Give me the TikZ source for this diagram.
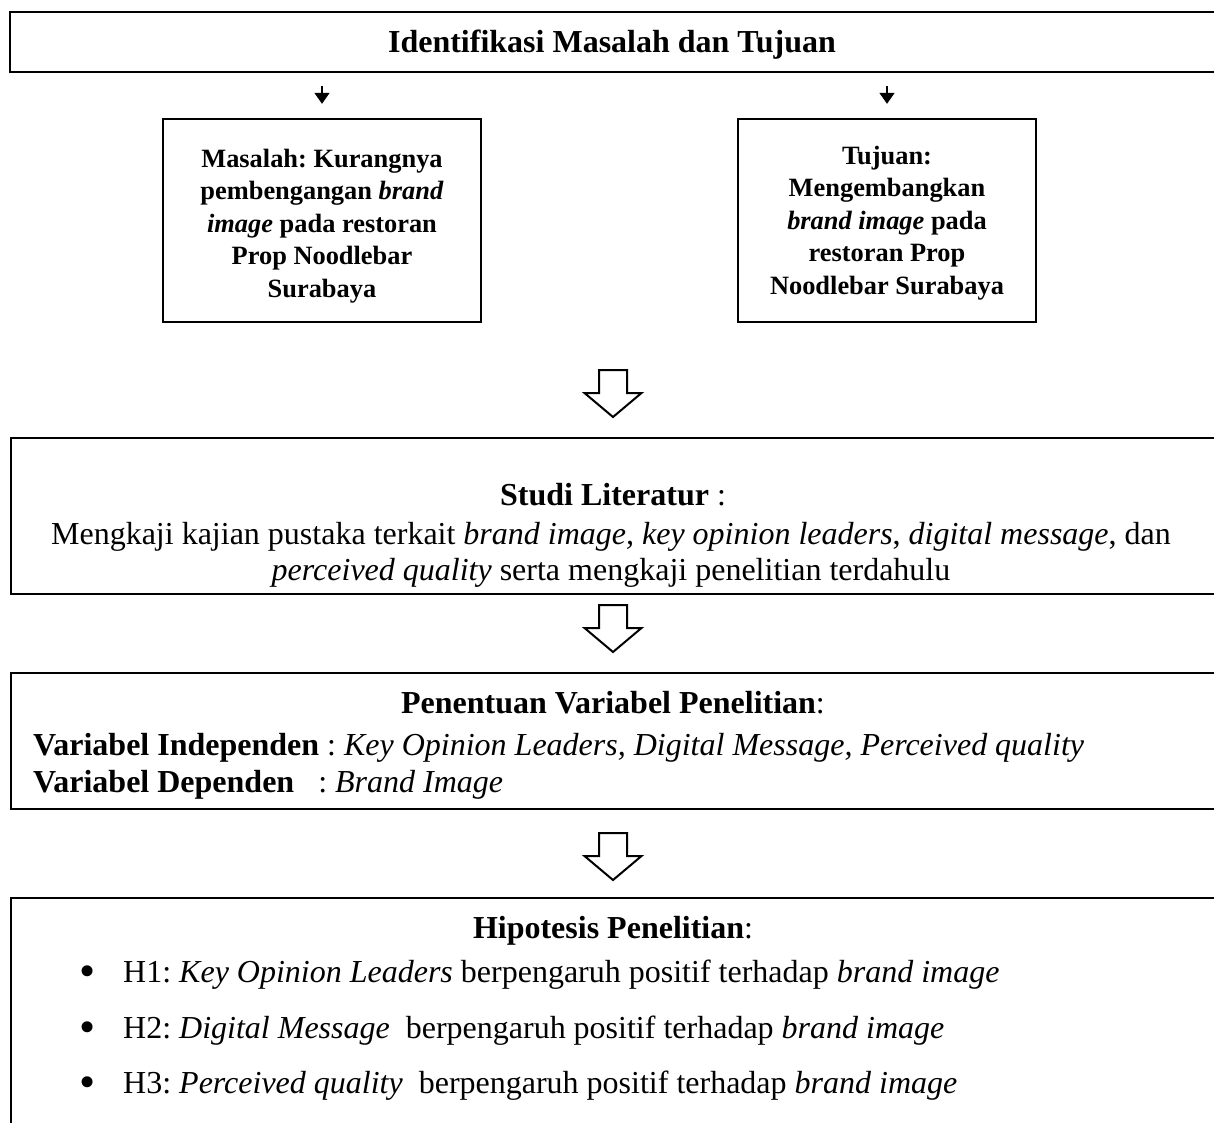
\documentclass[tikz,border=0pt]{standalone}
\usepackage{fontspec}
\setmainfont{Liberation Serif}
\usetikzlibrary{arrows.meta}
\frenchspacing
\begin{document}
\begin{tikzpicture}[x=1pt,y=-1pt,
  box/.style={draw, line width=2.4pt, inner sep=0pt},
  bigtxt/.style={font=\frenchspacing\fontsize{32}{38}\selectfont, inner sep=0pt},
  bigbold/.style={font=\frenchspacing\fontsize{32}{38}\selectfont\bfseries, inner sep=0pt},
  bul/.style={font=\fontsize{46}{46}\selectfont, inner sep=0pt},
  smalltxt/.style={font=\frenchspacing\fontsize{26.4}{32.5}\selectfont\bfseries, align=center, inner sep=0pt},
  smallarr/.style={-{Triangle[width=15pt,length=11pt]}, line width=1.7pt},
  pics/blockarrow/.style={code={
    \draw[line width=2pt, fill=white, line join=miter]
      (-14,0) -- (14,0) -- (14,23) -- (28.5,23) -- (0,47) -- (-28.5,23) -- (-14,23) -- cycle;}}
]
\useasboundingbox (0,0) rectangle (1214,1122);
\clip (0,0) rectangle (1214,1122);
\fill[white] (0,0) rectangle (1214,1122);

% top box
\node[box, anchor=north west, minimum width=1207pt, minimum height=60pt] (top) at (9,11) {};
\node[bigbold, anchor=base] (toptext) at (612,52) {Identifikasi Masalah dan Tujuan};

% small boxes
\node[box, minimum width=318pt, minimum height=203pt] (mas) at (322,220.5) {};
\node[smalltxt] (mastext) at (322,226)
  {Masalah: Kurangnya\\ pembengangan \textit{brand}\\ \textit{image} pada restoran\\ Prop Noodlebar\\ Surabaya};
\node[box, minimum width=298pt, minimum height=203pt] (tuj) at (887,220.5) {};
\node[smalltxt] (tujtext) at (887,223)
  {Tujuan:\\ Mengembangkan\\ \textit{brand image} pada\\ restoran Prop\\ Noodlebar Surabaya};

\draw[smallarr, shorten <=13pt, shorten >=14pt] (top.south -| mas.north) -- (mas.north);
\draw[smallarr, shorten <=13pt, shorten >=14pt] (top.south -| tuj.north) -- (tuj.north);

% block arrow 1
\pic (ba1) at (613,370) {blockarrow};

% Studi literatur
\node[box, anchor=north west, minimum width=1206pt, minimum height=156pt] (studi) at (10,437) {};
\node[bigtxt, anchor=base] (studi1) at (613,505) {\textbf{Studi Literatur} :};
\node[bigtxt, anchor=base] (studi2) at (611,544) {Mengkaji kajian pustaka terkait \textit{brand image, key opinion leaders}, \textit{digital message}, dan};
\node[bigtxt, anchor=base] (studi3) at (611,580) {\textit{perceived quality} serta mengkaji penelitian terdahulu};

\pic (ba2) at (613,605) {blockarrow};

% Penentuan variabel
\node[box, anchor=north west, minimum width=1206pt, minimum height=136pt] (var) at (10,672) {};
\node[bigtxt, anchor=base] (var1) at (613,713) {\textbf{Penentuan Variabel Penelitian}:};
\node[bigtxt, anchor=base west] (var2) at (33,755) {\textbf{Variabel Independen} : \textit{Key Opinion Leaders, Digital Message, Perceived quality}};
\node[bigtxt, anchor=base west] (var3) at (33,792) {\textbf{Variabel Dependen}\ \ \ : \textit{Brand Image}};

\pic (ba3) at (613,833) {blockarrow};

% Hipotesis
\node[box, anchor=north west, minimum width=1206pt, minimum height=260pt] (hip) at (10,897) {};
\node[bigtxt, anchor=base] (hip0) at (613,938) {\textbf{Hipotesis Penelitian}:};
\node[bul, anchor=base] (b1) at (88,986) {•};
\node[bigtxt, anchor=base west] (h1) at (123,982) {H1: \textit{Key Opinion Leaders} berpengaruh positif terhadap \textit{brand image}};
\node[bul, anchor=base] (b2) at (88,1042) {•};
\node[bigtxt, anchor=base west] (h2) at (123,1038) {H2: \textit{Digital Message}\ \ berpengaruh positif terhadap \textit{brand image}};
\node[bul, anchor=base] (b3) at (88,1097) {•};
\node[bigtxt, anchor=base west] (h3) at (123,1093) {H3: \textit{Perceived quality}\ \ berpengaruh positif terhadap \textit{brand image}};
\end{tikzpicture}
\end{document}
